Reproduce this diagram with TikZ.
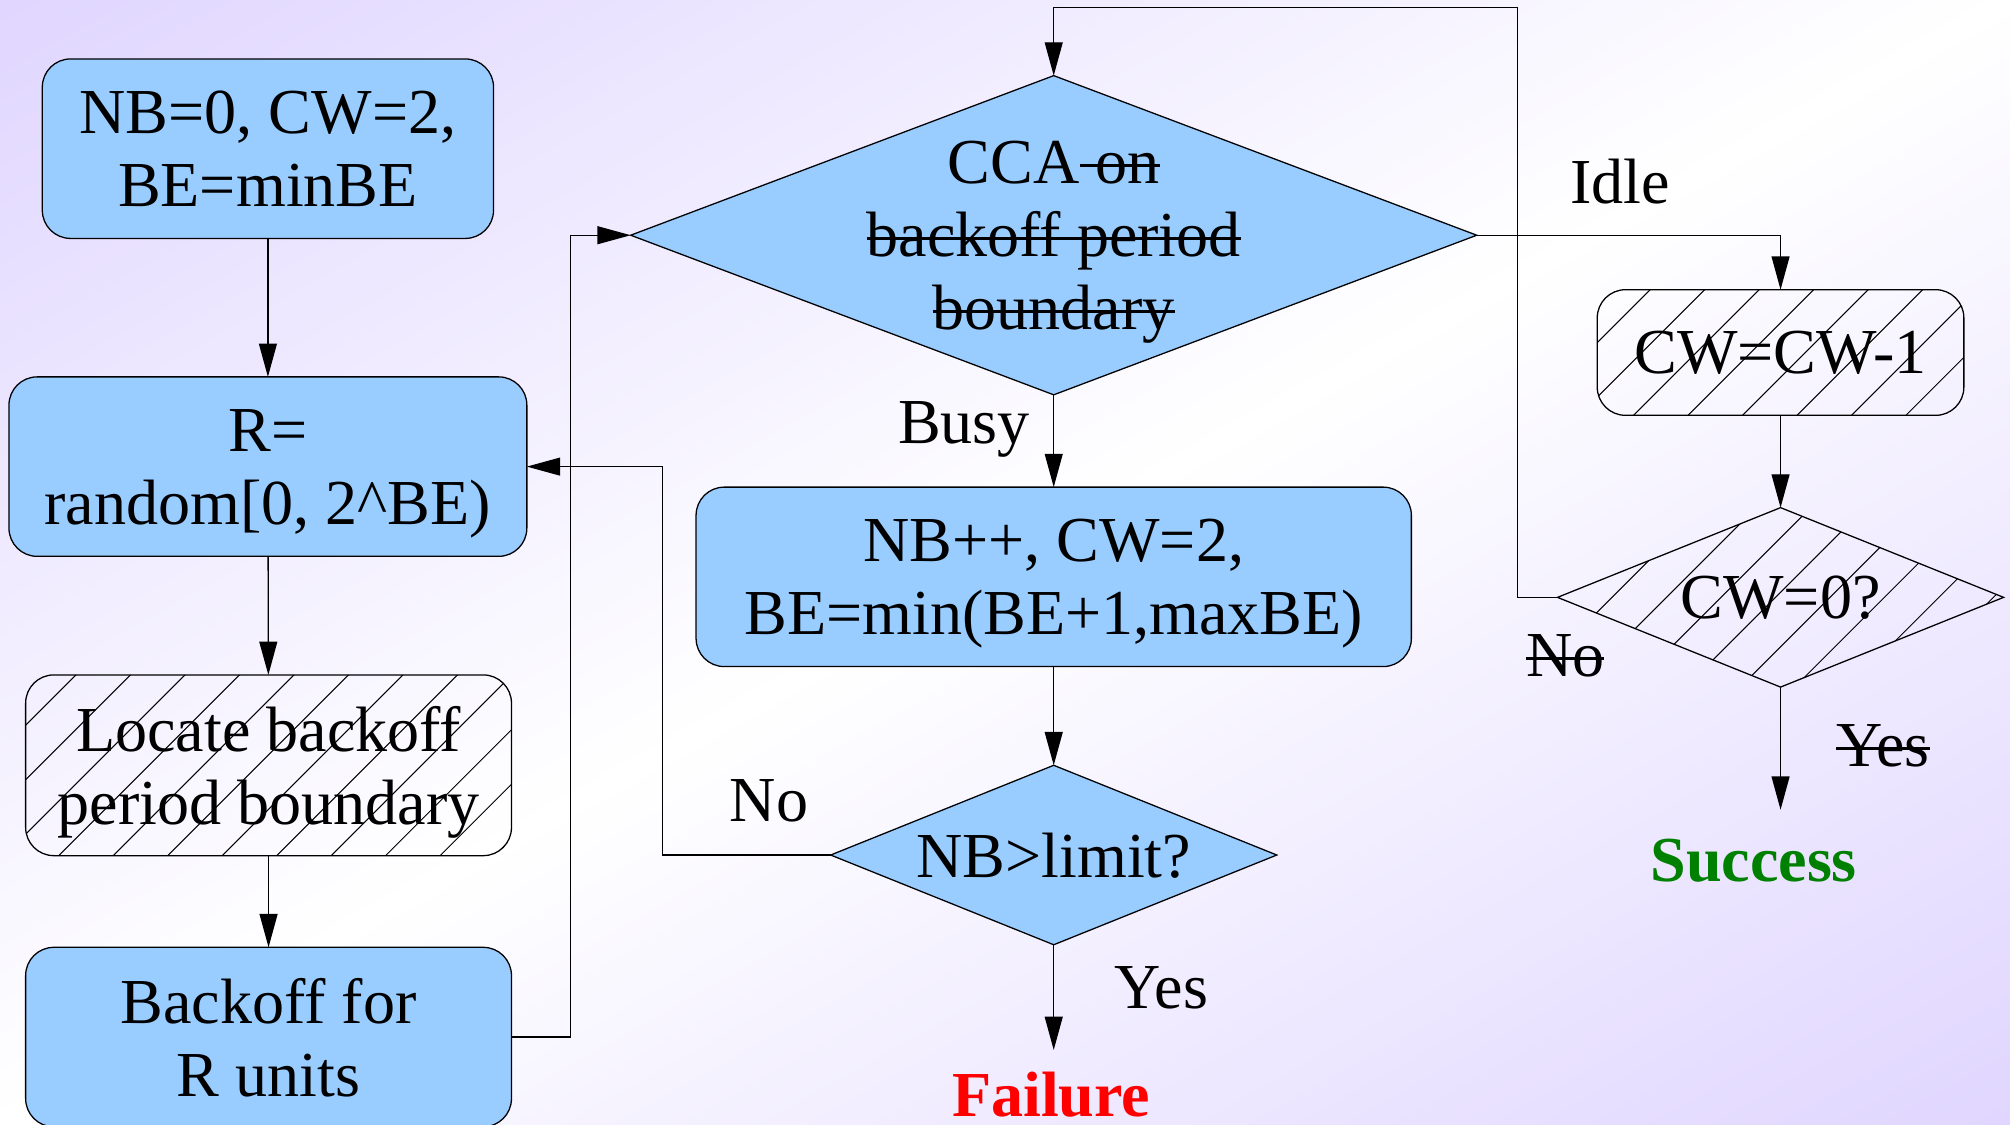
\documentclass[tikz,border=0pt]{standalone}
\usepackage{fontspec}
\setmainfont{Liberation Serif}
\usetikzlibrary{arrows.meta,shapes.geometric}

\definecolor{lav}{RGB}{224,214,255}
\definecolor{boxblue}{RGB}{153,204,255}
\definecolor{okgreen}{RGB}{0,128,0}

% diagonal background: lavender corners, white band through the middle
\pgfdeclarehorizontalshading{bgshade}{100bp}{color(0bp)=(lav); color(30.9bp)=(lav); color(50bp)=(white); color(69.1bp)=(lav); color(100bp)=(lav)}

% struck-through text
\newcommand\strk[1]{\begingroup\sbox0{#1}\rlap{\rule[0.26em]{\wd0}{2.5pt}}\usebox0\endgroup}
\newcommand\bodyfont{\fontsize{50}{57}\selectfont}

\begin{document}
\begin{tikzpicture}[x=1pt, y=-1pt,
  box/.style={draw, line width=1pt, rounded corners=22pt, align=center,
    inner sep=0pt, outer sep=0pt, text depth=0pt, font=\bodyfont},
  solid box/.style={box, fill=boxblue},
  decision/.style={diamond, draw, line width=1pt, inner sep=0pt, outer sep=0pt},
  arr/.style={-{Triangle[length=26pt,width=14pt]}, line width=1pt},
  lbl/.style={font=\bodyfont, inner sep=0pt, anchor=base},
  hatch/.style={path picture={
    \foreach \k in {-14,...,14}{
      \draw[line width=0.8pt, black]
        ([xshift=\k*42.5pt+#1pt]path picture bounding box.center)
        ++(-400pt,-400pt) -- ++(800pt,800pt);
    }}},
  dtext/.style={label={[align=center, font=\bodyfont, inner sep=0pt, text depth=0pt]center:{#1}}}
]
\useasboundingbox (0,0) rectangle (1568,877);

% background
\begin{scope}
  \clip (0,0) rectangle (1568,877);
  \shade[shading=bgshade, shading angle=-60.8] (-216,-561.5) rectangle (1784,1438.5);
\end{scope}

% left column
\node[solid box, minimum width=352pt, minimum height=140pt] (A) at (209,116) {NB=0, CW=2,\\BE=minBE};
\node[solid box, minimum width=404pt, minimum height=140pt] (B) at (209,364) {R=\\random[0, 2\textasciicircum BE)};
\node[box, hatch=-8.2, minimum width=379pt, minimum height=141pt] (C) at (209.5,597) {Locate backoff\\period boundary};
\node[solid box, minimum width=379pt, minimum height=140pt] (I) at (209.5,809) {Backoff for\\R units};

% middle column
\node[decision, fill=boxblue, minimum width=660pt, minimum height=249pt,
  dtext={CCA\strk{ on}\\\strk{backoff period}\\\strk{boundary}}] (E) at (822,183.5) {};
\node[solid box, minimum width=558pt, minimum height=140pt] (D) at (822,450) {NB++, CW=2,\\BE=min(BE+1,maxBE)};
\node[decision, fill=boxblue, minimum width=348pt, minimum height=140pt,
  dtext={NB>limit?}] (F) at (822,667) {};
\node[font=\bodyfont\bfseries, text=red, anchor=base, inner sep=0pt] (fail) at (820,871) {Failure};

% right column
\node[box, hatch=19.3, minimum width=286pt, minimum height=98pt] (G) at (1389,275) {CW=CW-1};
\node[decision, hatch=-4, minimum width=348pt, minimum height=140pt,
  dtext={CW=0?}] (H) at (1389,466) {};
\node[font=\bodyfont\bfseries, text=okgreen, anchor=base, inner sep=0pt] (succ) at (1368,688) {Success};

% branch labels
\node[lbl] (idle) at (1264,159) {Idle};
\node[lbl] (busy) at (752,346) {Busy};
\node[lbl] (nof) at (600,641) {No};
\node[lbl] (yesf) at (906,787) {Yes};
\node[lbl] (noh) at (1221,528) {\strk{No}};
\node[lbl] (yesh) at (1469,598) {\strk{Yes}};

% routing columns
\coordinate (lx) at (445,0);
\coordinate (mx) at (517,0);
\coordinate (tx) at (1184,6);

% connectors
\draw[arr] (A) -- (B);
\draw[arr] (B) -- (C);
\draw[arr] (C) -- (I);
\draw[arr] (I.east) -- (I.east -| lx) |- (E.west);
\draw[arr] (E.south) -- (D.north);
\draw[arr] (D.south) -- (F.north);
\draw[arr] (F.west) -- (F.west -| mx) |- (B.east);
\draw[arr, shorten >=17pt] (F.south) -- (F.south |- fail.north);
\draw[arr] (E.east) -| (G.north);
\draw[arr] (G.south) -- (H.north);
\draw[arr] (H.west) -| (tx) -| (E.north);
\draw[arr, shorten >=23pt] (H.south) -- (H.south |- succ.north);
\end{tikzpicture}
\end{document}
